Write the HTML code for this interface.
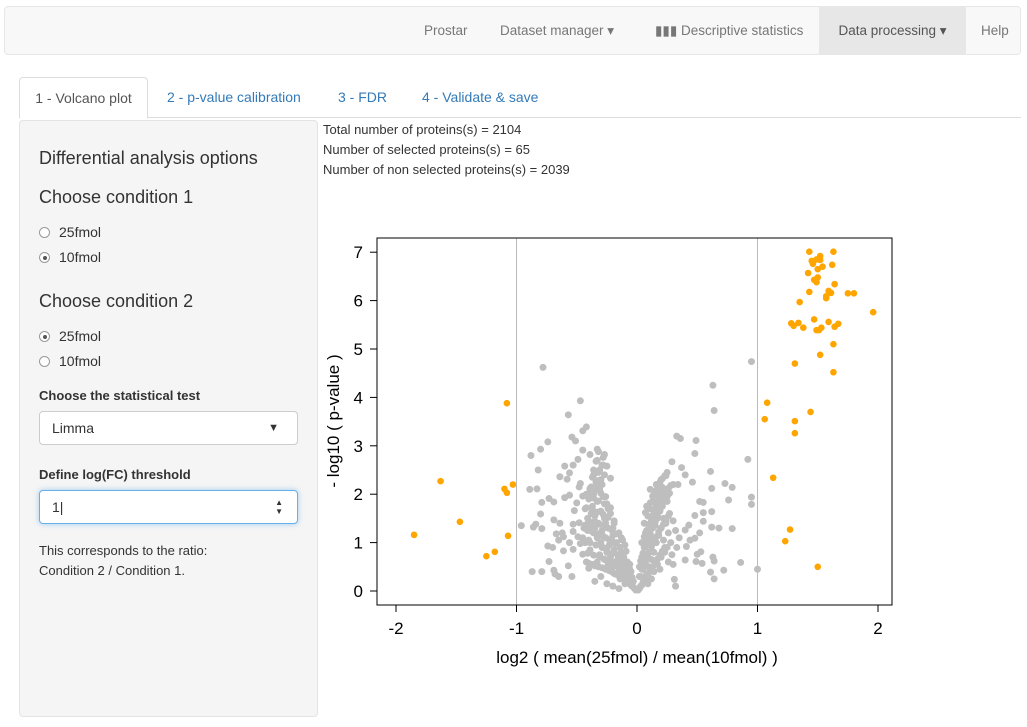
<!DOCTYPE html>
<html><head><meta charset="utf-8"><style>
body{margin:0;width:1027px;height:727px;overflow:hidden;font-family:"Liberation Sans",sans-serif;background:#fff;color:#333;font-size:14px;position:relative}
.abs{position:absolute}
.nav{left:4px;top:6px;width:1017px;height:49px;background:#f8f8f8;border:1px solid #e7e7e7;border-radius:4px;box-sizing:border-box}
.ni{position:absolute;top:0;height:48px;line-height:48px;color:#777;font-size:13.5px}
.tab{position:absolute;top:77px;height:41px;line-height:41px;color:#337ab7;font-size:14px}
.side{left:19px;top:120px;width:299px;height:597px;background:#f5f5f5;border:1px solid #e3e3e3;border-radius:4px;box-sizing:border-box}
.radio{position:absolute;width:11px;height:11px;border:1px solid #999;border-radius:50%;background:#fff;box-sizing:border-box}
.radio.on::after{content:"";position:absolute;left:2.5px;top:2.5px;width:4px;height:4px;border-radius:50%;background:#555}
</style></head><body>
<div class="abs nav">
 <div class="ni" style="left:419px">Prostar</div>
 <div class="ni" style="left:495px">Dataset manager ▾</div>
 <div class="ni" style="left:650px">▮▮▮ Descriptive statistics</div>
 <div class="ni" style="left:814px;width:147px;background:#e7e7e7;color:#555;text-align:center">Data processing ▾</div>
 <div class="ni" style="left:976px">Help</div>
</div>
<div class="abs" style="left:19px;top:117px;width:1002px;border-top:1px solid #ddd"></div>
<div class="tab" style="left:19px;width:129px;background:#fff;border:1px solid #ddd;border-bottom-color:#fff;border-radius:4px 4px 0 0;color:#555;text-align:center;box-sizing:border-box;height:42px">1 - Volcano plot</div>
<div class="tab" style="left:167px">2 - p-value calibration</div>
<div class="tab" style="left:338px">3 - FDR</div>
<div class="tab" style="left:422px">4 - Validate &amp; save</div>
<div class="abs side"></div>
<div class="abs" style="left:39px;top:148px;font-size:18px">Differential analysis options</div>
<div class="abs" style="left:39px;top:187px;font-size:18px">Choose condition 1</div>
<div class="radio abs" style="left:39px;top:227px"></div><div class="abs" style="left:59px;top:224px">25fmol</div>
<div class="radio on abs" style="left:39px;top:252px"></div><div class="abs" style="left:59px;top:249px">10fmol</div>
<div class="abs" style="left:39px;top:291px;font-size:18px">Choose condition 2</div>
<div class="radio on abs" style="left:39px;top:331px"></div><div class="abs" style="left:59px;top:328px">25fmol</div>
<div class="radio abs" style="left:39px;top:356px"></div><div class="abs" style="left:59px;top:353px">10fmol</div>
<div class="abs" style="left:39px;top:388px;font-weight:bold;font-size:13px">Choose the statistical test</div>
<div class="abs" style="left:39px;top:411px;width:259px;height:34px;background:#fff;border:1px solid #ccc;border-radius:4px;box-sizing:border-box;line-height:32px;padding-left:12px">Limma<span style="position:absolute;right:18px;top:0;font-size:11px">▼</span></div>
<div class="abs" style="left:39px;top:467px;font-weight:bold;font-size:13px">Define log(FC) threshold</div>
<div class="abs" style="left:39px;top:490px;width:259px;height:34px;background:#fff;border:1px solid #66afe9;box-shadow:0 0 6px rgba(102,175,233,.6);border-radius:4px;box-sizing:border-box;line-height:32px;padding-left:12px">1|<span style="position:absolute;right:14px;top:0;font-size:8px;line-height:9px;padding-top:7px">▲<br>▼</span></div>
<div class="abs" style="left:39px;top:541px;font-size:13px;line-height:20px">This corresponds to the ratio:<br>Condition 2 / Condition 1.</div>
<div class="abs" style="left:323px;top:120px;font-size:13px;line-height:20px">Total number of proteins(s) = 2104<br>Number of selected proteins(s) = 65<br>Number of non selected proteins(s) = 2039</div>
<svg class="abs" style="left:0;top:0" width="1027" height="727" id="plot"></svg>
<script>
const grayFC=[-0.78,-0.47,-0.57,-0.42,-0.45,-0.54,-0.51,-0.74,-0.80,-0.88,-0.45,-0.33,-0.39,-0.28,-0.49,-0.53,-0.60,-0.82,-0.25,-0.56,-0.64,-0.58,-0.47,-0.48,-0.89,-0.83,-0.39,-0.33,-0.27,-0.22,-0.56,-0.60,-0.73,-0.69,-0.79,-0.45,-0.50,-0.52,-0.80,-0.96,-0.86,-0.84,-0.79,-0.69,-0.64,-0.53,-0.48,-0.43,-0.67,-0.62,-0.61,-0.53,-0.49,-0.65,-0.56,-0.47,-0.74,-0.70,-0.61,-0.53,-0.45,-0.73,-0.57,-0.40,-0.87,-0.79,-0.69,-0.68,-0.65,-0.54,
-0.02,-0.04,-0.06,-0.05,-0.08,-0.1,-0.07,-0.12,-0.15,-0.09,-0.13,-0.18,-0.2,-0.22,-0.16,-0.11,-0.25,-0.19,-0.14,-0.28,-0.23,-0.3,-0.17,-0.12,-0.26,-0.33,-0.2,-0.36,-0.29,-0.15,-0.24,-0.38,-0.32,-0.19,-0.27,-0.41,-0.35,-0.22,-0.3,-0.43,-0.37,-0.25,-0.33,-0.4,-0.28,-0.36,-0.31,-0.38,-0.34,-0.3,-0.36,-0.31,-0.28,-0.33,-0.1,-0.03,-0.14,-0.18,-0.05,-0.24,-0.08,-0.27,-0.13,-0.31,-0.21,-0.34,-0.1,-0.4,-0.26,-0.44,-0.35,-0.2,-0.3,-0.16,-0.06,-0.38,-0.42,-0.24,-0.45,-0.39,-0.33,-0.35,-0.25,-0.2,-0.3,-0.15,
-0.01,-0.03,-0.05,-0.07,-0.09,-0.11,-0.13,-0.16,-0.19,-0.21,-0.23,-0.26,-0.29,-0.32,-0.35,-0.37,-0.40,-0.42,-0.04,-0.08,-0.12,-0.17,-0.22,-0.27,-0.31,-0.36,-0.41,-0.06,-0.11,-0.15,-0.2,-0.25,-0.29,-0.34,-0.39,-0.43,-0.09,-0.14,-0.18,-0.23,-0.28,-0.32,-0.37,-0.41,-0.13,-0.17,-0.21,-0.26,-0.31,-0.35,-0.4,-0.19,-0.24,-0.28,-0.33,-0.37,-0.42,-0.22,-0.27,-0.32,-0.36,-0.4,-0.26,-0.3,-0.35,-0.39,-0.29,-0.33,-0.37,-0.32,-0.36,-0.29,-0.34,-0.27,-0.32,
0.95,0.63,0.64,0.33,0.36,0.49,0.48,0.92,0.29,0.37,0.40,0.24,0.61,0.46,0.30,0.34,0.21,0.18,0.73,0.79,0.62,0.95,0.95,0.76,0.52,0.55,0.62,0.55,0.48,0.55,0.62,0.68,0.79,0.43,0.40,0.52,0.48,0.44,0.41,0.53,0.50,0.63,0.64,0.49,0.54,0.40,0.86,1.00,0.72,0.61,0.64,0.31,0.32,
0.02,0.04,0.06,0.03,0.08,0.05,0.1,0.07,0.12,0.04,0.09,0.14,0.06,0.11,0.16,0.08,0.13,0.18,0.07,0.1,0.15,0.2,0.12,0.17,0.09,0.22,0.14,0.19,0.11,0.16,0.21,0.13,0.18,0.23,0.15,0.2,0.25,0.27,0.24,0.26,0.22,0.25,0.2,0.17,0.14,0.12,0.09,0.28,0.3,0.23,0.26,0.19,0.05,0.06,0.08,0.11,0.16,0.2,0.24,0.32,0.29,0.02,0.35,0.33,0.3,
0.01,0.03,0.05,0.07,0.09,0.11,0.13,0.15,0.17,0.19,0.21,0.23,0.02,0.04,0.06,0.08,0.1,0.12,0.14,0.16,0.18,0.2,0.22,0.24,0.26,0.03,0.05,0.07,0.09,0.11,0.13,0.15,0.17,0.19,0.21,0.23,0.25,0.27,0.04,0.06,0.08,0.1,0.12,0.14,0.16,0.18,0.2,0.22,0.24,0.26,0.28,0.07,0.09,0.11,0.13,0.15,0.17,0.19,0.21,0.23,0.25];
const grayP=[4.62,3.93,3.64,3.39,3.31,3.18,3.10,3.08,2.93,2.80,2.91,2.93,2.82,2.76,2.72,2.60,2.58,2.50,2.58,2.44,2.36,2.31,2.22,2.15,2.10,2.11,2.10,2.19,2.40,2.33,1.98,1.93,1.91,1.84,1.83,1.96,1.82,1.66,1.59,1.35,1.32,1.38,1.29,1.47,1.40,1.38,1.41,1.36,1.18,1.20,1.12,1.23,1.12,1.05,1.00,0.98,0.93,0.90,0.83,0.86,0.76,0.61,0.52,0.47,0.40,0.40,0.43,0.35,0.30,0.30,
0.05,0.1,0.15,0.25,0.2,0.3,0.35,0.4,0.45,0.5,0.55,0.6,0.5,0.7,0.75,0.7,0.8,0.85,0.9,0.9,0.95,1.0,1.0,1.05,1.1,1.1,1.15,1.2,1.25,1.2,1.3,1.35,1.4,1.4,1.5,1.5,1.55,1.6,1.65,1.7,1.75,1.8,1.85,1.9,1.95,2.0,2.1,2.15,2.25,2.3,2.4,2.5,2.6,2.7,0.15,0.2,0.25,0.35,0.4,0.55,0.6,0.65,0.8,0.75,1.05,0.95,0.95,1.05,1.4,1.3,1.3,1.3,1.2,0.65,0.45,1.6,2.0,1.7,1.1,0.85,0.6,0.2,0.15,0.1,0.3,0.05,
0.02,0.08,0.12,0.18,0.22,0.26,0.3,0.33,0.36,0.4,0.42,0.45,0.48,0.5,0.52,0.55,0.57,0.6,0.28,0.36,0.44,0.52,0.6,0.66,0.7,0.74,0.78,0.55,0.62,0.7,0.78,0.85,0.9,0.95,1.0,1.0,0.82,0.9,0.98,1.06,1.13,1.18,1.22,1.25,1.1,1.18,1.26,1.33,1.38,1.44,1.45,1.45,1.52,1.58,1.63,1.68,1.72,1.72,1.8,1.86,1.92,1.98,1.95,2.02,2.08,2.12,2.2,2.28,2.35,2.45,2.5,2.6,2.68,2.82,2.88,
4.74,4.25,3.73,3.20,3.15,3.11,2.84,2.72,2.67,2.55,2.40,2.38,2.47,2.25,2.20,2.20,2.14,2.04,2.22,2.14,2.12,1.94,1.79,1.88,1.85,1.83,1.64,1.62,1.56,1.44,1.32,1.30,1.29,1.36,1.26,1.20,1.09,1.05,0.92,0.81,0.76,0.70,0.62,0.61,0.57,0.64,0.59,0.45,0.43,0.39,0.25,0.24,0.10,
0.05,0.12,0.2,0.3,0.35,0.45,0.5,0.6,0.65,0.7,0.75,0.8,0.9,0.95,1.0,1.05,1.1,1.15,1.2,1.3,1.35,1.3,1.45,1.5,1.55,1.5,1.6,1.65,1.7,1.8,1.75,1.85,1.9,1.95,2.0,2.05,1.85,1.6,1.4,1.2,1.05,0.9,0.7,0.55,0.4,0.25,0.15,1.0,1.45,0.8,0.6,0.45,1.0,1.4,1.75,2.1,2.2,2.3,2.1,1.25,0.75,0.5,1.1,0.9,0.55,
0.02,0.1,0.18,0.26,0.34,0.42,0.5,0.58,0.66,0.74,0.82,0.9,0.3,0.45,0.55,0.68,0.8,0.92,1.04,1.12,1.22,1.3,1.38,1.46,1.55,0.62,0.78,0.92,1.06,1.18,1.3,1.42,1.55,1.66,1.76,1.86,1.95,2.02,1.0,1.12,1.25,1.38,1.52,1.64,1.74,1.84,1.92,2.0,2.06,2.12,2.18,1.62,1.72,1.82,1.96,2.06,2.16,2.24,2.32,2.38,2.45];
const selFC=[1.43,1.63,1.45,1.52,1.49,1.46,1.52,1.54,1.50,1.62,1.42,1.50,1.47,1.49,1.64,1.43,1.59,1.61,1.57,1.57,1.75,1.80,1.35,1.96,1.28,1.30,1.34,1.38,1.47,1.49,1.51,1.53,1.59,1.64,1.67,1.63,1.52,1.31,1.63,1.08,1.44,1.06,1.31,1.31,1.13,1.27,1.23,1.50,
-1.08,-1.63,-1.10,-1.08,-1.03,-1.47,-1.07,-1.85,-1.18,-1.25];
const selP=[7.01,7.01,6.82,6.92,6.85,6.76,6.84,6.70,6.65,6.74,6.57,6.48,6.43,6.38,6.34,6.18,6.20,6.16,6.09,6.05,6.15,6.15,5.97,5.76,5.53,5.48,5.54,5.44,5.61,5.39,5.39,5.44,5.56,5.46,5.52,5.10,4.88,4.70,4.52,3.89,3.70,3.55,3.51,3.26,2.34,1.27,1.03,0.50,
3.88,2.27,2.11,2.03,2.20,1.43,1.14,1.16,0.81,0.72];
const xTicks=[-2,-1,0,1,2];
const yTicks=[0,1,2,3,4,5,6,7];
const thresholds=[-1,1];
const NS="http://www.w3.org/2000/svg";
const svg=document.getElementById('plot');
const L=377,R=892,T=238,B=605;
const sx=v=>637+v*120.5, sy=v=>591-v*48.4;
function mk(t,a,txt){const e=document.createElementNS(NS,t);for(const k in a)e.setAttribute(k,a[k]);if(txt!=null)e.textContent=txt;svg.appendChild(e);return e;}
thresholds.forEach(t=>{const e=mk('line',{x1:sx(t),x2:sx(t),y1:T,y2:B,stroke:'#bbb','stroke-width':1});

});
grayFC.forEach((v,i)=>{const e=mk('circle',{cx:sx(v),cy:sy(grayP[i]),r:3.5,fill:'#bebebe'});

});
selFC.forEach((v,i)=>{const e=mk('circle',{cx:sx(v),cy:sy(selP[i]),r:3.3,fill:'#ffa500'});

});
const box=mk('rect',{x:L,y:T,width:R-L,height:B-T,fill:'none',stroke:'#000','stroke-width':1});


xTicks.forEach(t=>{mk('line',{x1:sx(t),x2:sx(t),y1:B,y2:B+7,stroke:'#000'});
const e=mk('text',{x:sx(t),y:B+29,'text-anchor':'middle','font-size':17,fill:'#000'},t);

});
yTicks.forEach(t=>{mk('line',{x1:L-7,x2:L,y1:sy(t),y2:sy(t),stroke:'#000'});
const e=mk('text',{x:L-14,y:sy(t)+6,'text-anchor':'end','font-size':17,fill:'#000'},t);

});
const xt=mk('text',{x:637,y:663,'text-anchor':'middle','font-size':17,fill:'#000'},'log2 ( mean(25fmol) / mean(10fmol) )');


const yt=mk('text',{x:0,y:0,transform:'translate(339,421) rotate(-90)','text-anchor':'middle','font-size':17,fill:'#000'},'- log10 ( p-value )');


</script>
</body></html>
